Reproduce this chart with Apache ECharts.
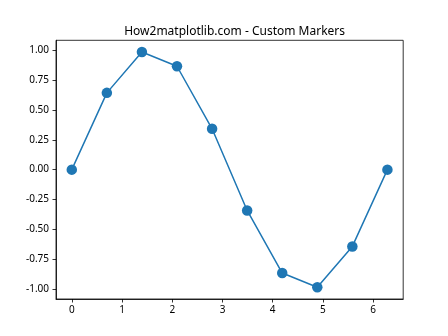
<!DOCTYPE html>
<html><head><meta charset="utf-8">
<script src="https://cdn.jsdelivr.net/npm/echarts@6/dist/echarts.min.js"></script>
<style>html,body{margin:0;padding:0;background:#fff}#c{width:448px;height:336px}</style>
</head><body><div id="c"></div>
<script>
var titleText = 'How2matplotlib.com - Custom Markers';
var xValues = [0, 0.698, 1.396, 2.094, 2.793, 3.491, 4.189, 4.887, 5.585, 6.283];
var yValues = [0, 0.643, 0.985, 0.866, 0.342, -0.342, -0.866, -0.985, -0.643, 0];
var xTicks = [0, 1, 2, 3, 4, 5, 6];
var yTicks = [-1.0, -0.75, -0.5, -0.25, 0, 0.25, 0.5, 0.75, 1.0];

var chart = echarts.init(document.getElementById('c'));
var font = 'Noto Sans';
var data = xValues.map(function (x, i) { return [x, yValues[i]]; });
chart.setOption({
  animation: false,
  title: {
    text: titleText, left: 229.6, top: 21, textAlign: 'center',
    textStyle: { fontFamily: font, fontSize: 12, fontWeight: 'normal', color: '#000' }
  },
  grid: { left: 56, right: 44.8, top: 40.3, bottom: 37, containLabel: false },
  xAxis: {
    type: 'value', min: -0.3142, max: 6.5973,
    axisLine: { onZero: false, lineStyle: { color: '#000', width: 0.8 } },
    axisTick: { show: true, length: 3.5, customValues: xTicks, lineStyle: { color: '#000', width: 0.8 } },
    axisLabel: { customValues: xTicks, color: '#000', fontFamily: font, fontSize: 10, margin: 6.5,
      formatter: function (v) { return String(v); } },
    splitLine: { show: false }
  },
  yAxis: {
    type: 'value', min: -1.0833, max: 1.0833,
    axisLine: { show: true, onZero: false, lineStyle: { color: '#000', width: 0.8 } },
    axisTick: { show: true, length: 3.5, customValues: yTicks, lineStyle: { color: '#000', width: 0.8 } },
    axisLabel: { customValues: yTicks, color: '#000', fontFamily: font, fontSize: 10, margin: 7,
      formatter: function (v) { return v.toFixed(2); } },
    splitLine: { show: false }
  },
  graphic: [{
    type: 'rect', shape: { x: 56, y: 40.3, width: 347.2, height: 258.7 },
    style: { fill: 'none', stroke: '#000', lineWidth: 0.8 }, z: 10, silent: true
  }],
  series: [{
    type: 'line', data: data, symbol: 'circle', symbolSize: 10.5,
    itemStyle: { color: '#1f77b4' },
    lineStyle: { color: '#1f77b4', width: 1.5 }
  }]
});
</script></body></html>
